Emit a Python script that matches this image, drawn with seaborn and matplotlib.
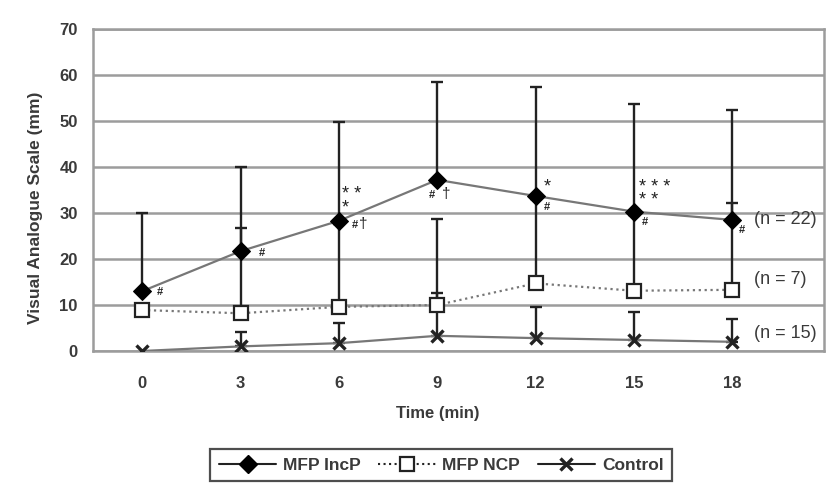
import numpy as np
import pandas as pd
import matplotlib
matplotlib.use('Agg')
import matplotlib.pyplot as plt
import seaborn as sns
from matplotlib.lines import Line2D

# data
time_min = [0, 3, 6, 9, 12, 15, 18]

incp_mean = [13.0, 21.7, 28.3, 37.2, 33.7, 30.3, 28.5]
incp_upper = [30.1, 39.9, 49.8, 58.5, 57.3, 53.6, 52.4]

ncp_mean = [8.9, 8.2, 9.6, 10.0, 14.7, 13.1, 13.3]
ncp_upper = [np.nan, 26.8, 27.5, 28.8, 33.0, 29.5, 32.2]

ctrl_mean = [0.0, 1.0, 1.7, 3.3, 2.8, 2.4, 2.0]
ctrl_upper = [np.nan, 4.2, 6.0, 12.6, 9.6, 8.5, 6.9]

series_names = ['MFP IncP', 'MFP NCP', 'Control']
n_labels = ['(n = 22)', '(n = 7)', '(n = 15)']

# significance marks: (x, y, text, fontsize)
sig_marks = [
    (0.45, 12.8, '#', 8), (3.55, 21.3, '#', 8),
    (6.1, 32.6, '* *\n*', 13),
    (6.4, 27.4, '#', 8), (6.62, 27.6, '†', 11),
    (8.75, 33.9, '#', 8), (9.15, 34.1, '†', 11),
    (12.25, 35.7, '*', 13), (12.25, 31.3, '#', 8),
    (15.15, 34.2, '* * *\n* *', 13), (15.25, 28.0, '#', 8),
    (18.2, 26.3, '#', 8),
]

sns.set_style('white')
plt.rcParams['font.family'] = ['Liberation Sans', 'DejaVu Sans']
txt_col = '#3a3a3a'
grid_col = '#9c9c9c'

df = pd.DataFrame({
    'time': time_min * 3,
    'vas': incp_mean + ncp_mean + ctrl_mean,
    'upper': incp_upper + ncp_upper + ctrl_upper,
    'group': np.repeat(series_names, len(time_min)),
})

fig = plt.figure(figsize=(8.34, 4.84), dpi=100)
ax = fig.add_axes([0.1115, 0.2748, 0.8765, 0.6653])

# error bars (upper only)
for name in series_names:
    d = df[(df['group'] == name) & df['upper'].notna()]
    err = (d['upper'] - d['vas']).to_numpy()
    ax.errorbar(d['time'], d['vas'], yerr=[np.zeros(len(d)), err],
                fmt='none', ecolor='#222222', elinewidth=1.7, capsize=4,
                capthick=1.7, zorder=3)

styles = {
    'MFP IncP': dict(marker='D', markersize=9, markerfacecolor='black',
                     markeredgecolor='black', linestyle='-'),
    'MFP NCP': dict(marker='s', markersize=9.5, markerfacecolor='white',
                    markeredgecolor='#222222', markeredgewidth=1.6, linestyle=':'),
    'Control': dict(marker='x', markersize=8, markeredgecolor='#222222',
                    markeredgewidth=2.4, linestyle='-'),
}

for name in series_names:
    sns.lineplot(data=df[df['group'] == name], x='time', y='vas', ax=ax,
                 color='#777777', linewidth=1.6, zorder=4, legend=False,
                 **styles[name])

for x, y, s, fs in sig_marks:
    ax.text(x, y, s, fontsize=fs, color='#222222', ha='left', va='center',
            linespacing=0.7, fontweight='bold' if s == '#' else 'normal',
            zorder=5)

last = [incp_mean[-1], ncp_mean[-1], ctrl_mean[-1]]
n_offsets = [0.0, 2.3, 1.9]
for y, off, lab in zip(last, n_offsets, n_labels):
    ax.text(18.68, y + off, lab, fontsize=13, color=txt_col, ha='left',
            va='center', zorder=5)

ax.set_xlim(-1.5, 20.8)
ax.set_ylim(0, 70)
ax.set_yticks(range(0, 71, 10))
ax.set_xticks(time_min)
ax.yaxis.grid(True, color=grid_col, linewidth=1.8)
ax.set_axisbelow(True)
for sp in ax.spines.values():
    sp.set_color(grid_col)
    sp.set_linewidth(1.8)

ax.tick_params(axis='both', length=0, labelsize=12, labelcolor=txt_col)
ax.tick_params(axis='x', pad=18)
ax.tick_params(axis='y', pad=11)
for lab in ax.get_xticklabels() + ax.get_yticklabels():
    lab.set_fontweight('bold')

ax.set_xlabel('Time (min)', fontsize=12, fontweight='bold', color=txt_col)
ax.xaxis.set_label_coords(0.472, -0.17)
ax.set_ylabel('Visual Analogue Scale (mm)', fontsize=12.5, fontweight='bold',
              color=txt_col)
ax.yaxis.set_label_coords(-0.068, 0.444)

handles = [Line2D([], [], color='#222222', linewidth=1.5, **styles[n]) for n in series_names]
leg = fig.legend(handles, series_names, loc='center', ncol=3,
                 bbox_to_anchor=(0.529, 0.039), frameon=True, fancybox=False,
                 handlelength=3.3, columnspacing=1.0, handletextpad=0.4,
                 borderpad=0.5, prop={'weight': 'bold', 'size': 12.5})
leg.get_frame().set_edgecolor('#222222')
leg.get_frame().set_linewidth(1.6)
for t in leg.get_texts():
    t.set_color(txt_col)

fig.savefig('out.png', dpi=100)
